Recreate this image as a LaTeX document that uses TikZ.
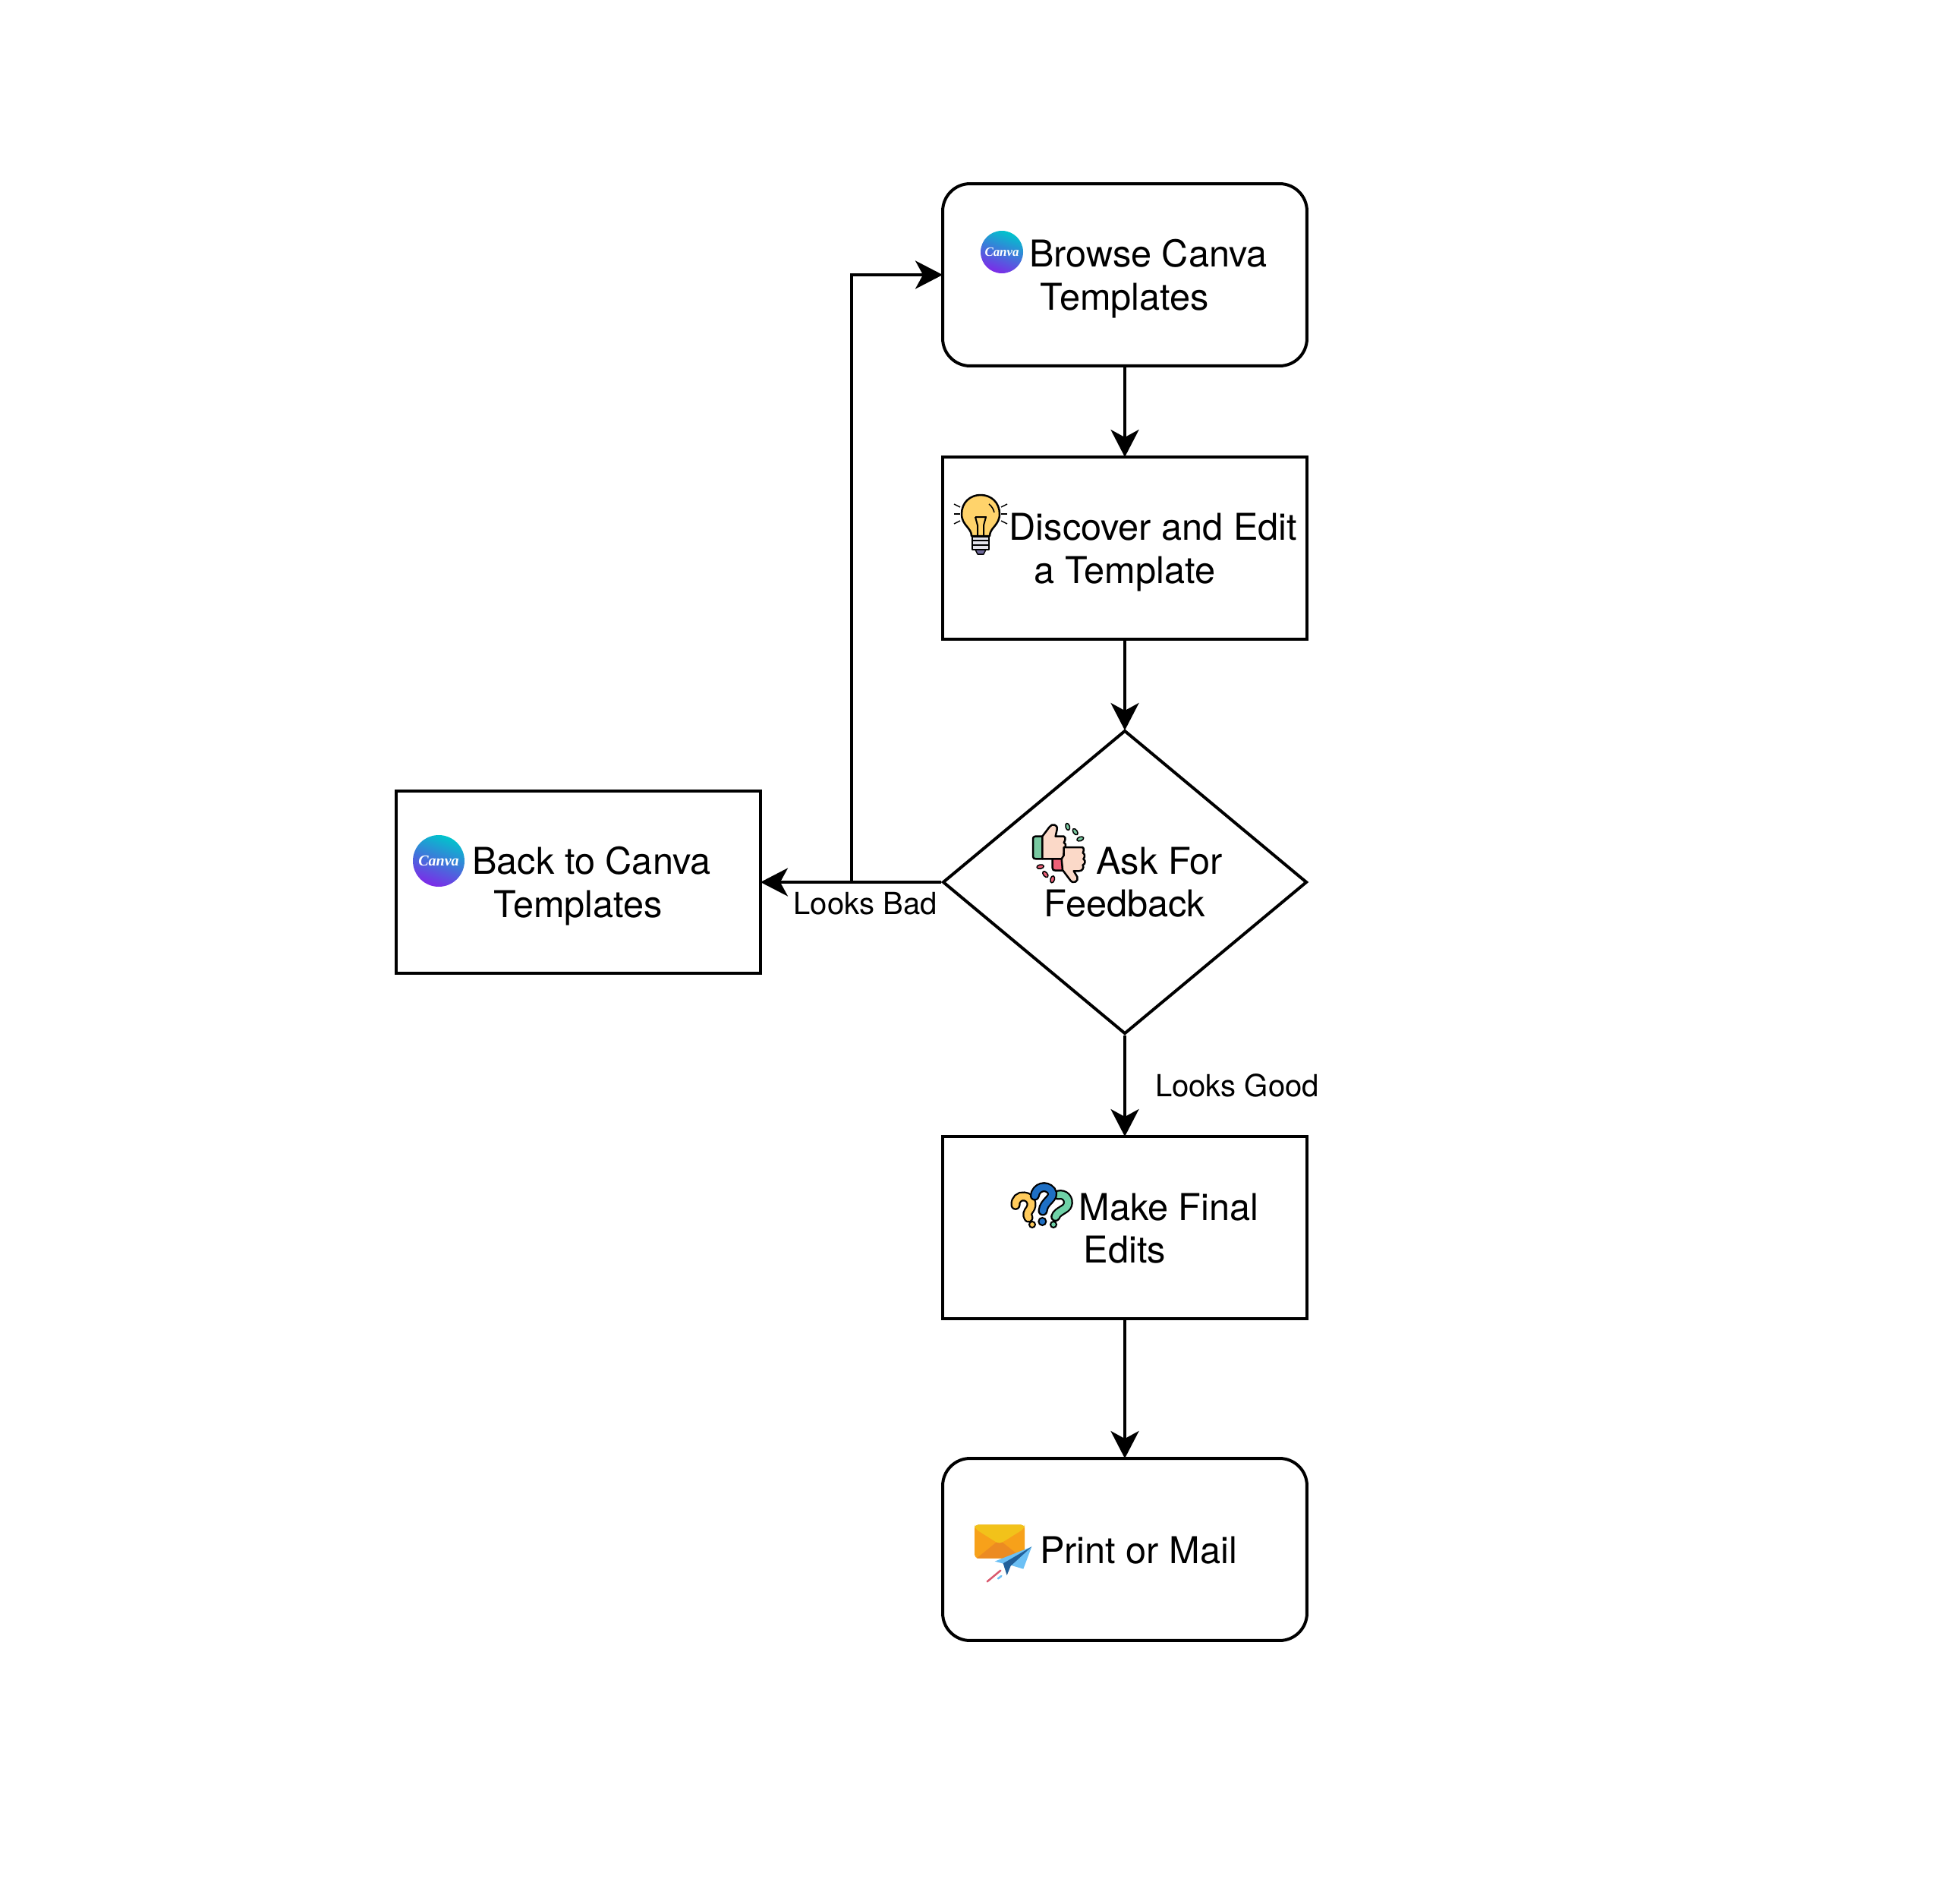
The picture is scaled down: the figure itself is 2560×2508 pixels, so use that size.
\documentclass[tikz,border=0pt]{standalone}
\usepackage{fontspec}
\setmainfont{TeX Gyre Heros}
\newfontfamily\logofont{Liberation Serif}
\usetikzlibrary{arrows.meta,shapes.geometric}

\definecolor{canvateal}{HTML}{00C4CC}
\definecolor{canvapurple}{HTML}{7D2AE8}
\definecolor{bulbyellow}{HTML}{FFD36B}
\definecolor{bulbgrey}{HTML}{E4E4EC}
\definecolor{bulbtip}{HTML}{6F6A9A}
\definecolor{thumbskin}{HTML}{FBD9C8}
\definecolor{thumbgreen}{HTML}{79C9A1}
\definecolor{thumbred}{HTML}{EE6078}
\definecolor{askyellow}{HTML}{FFCB5C}
\definecolor{askblue}{HTML}{1E6FC4}
\definecolor{askgreen}{HTML}{6FD2A8}
\definecolor{mailbody}{HTML}{F7A11A}
\definecolor{mailflap}{HTML}{F2C21A}
\definecolor{maildark}{HTML}{EC8B22}
\definecolor{planelight}{HTML}{6CC0F5}
\definecolor{planedark}{HTML}{22609A}
\definecolor{trailred}{HTML}{D9596E}

% pushes a text block down inside its box
\newcommand{\lowfar}{\rule{0pt}{26.4pt}}
\newcommand{\lownear}{\rule{0pt}{21.8pt}}

\tikzset{
	stepbox/.style={draw, rectangle, minimum width=9.6cm, minimum height=4.8cm, inner sep=0pt,
		align=center, font=\fontsize{27.7}{32}\selectfont},
	roundbox/.style={stepbox, rounded corners=0.72cm},
	askbox/.style={stepbox, diamond, minimum width=9.6cm, minimum height=8cm},
	flow/.style={-{Stealth[length=0.72cm, width=0.74cm, inset=0.2cm]}, shorten >=-0.04cm},
	edgetext/.style={inner sep=0pt, font=\fontsize{22.8}{27}\selectfont},
	logotext/.style={inner sep=0pt, text=white},
	thin line/.style={line width=0.05cm, line join=round},
	qmark/.style={line width=0.045cm, double=#1, double distance=0.17cm, line cap=round}
}

\begin{document}
\begin{tikzpicture}[x=0.02cm, y=-0.02cm, line width=0.08cm]
	\useasboundingbox (0,0) rectangle (2560,2508);

	\node[roundbox] (browse) at (1482,362) {\lowfar\hspace*{1.24cm}Browse Canva\\Templates};
	\node[stepbox] (discover) at (1482,722) {\lowfar\hspace*{1.5cm}Discover and Edit\\a Template};
	\node[askbox] (ask) at (1482,1162) {\hspace*{1.83cm}Ask For\\Feedback};
	\node[stepbox] (back) at (762,1162) {\lowfar\hspace*{0.7cm}Back to Canva\\Templates};
	\node[stepbox] (edits) at (1482,1617) {\lownear\hspace*{2.32cm}Make Final\\Edits};
	\node[roundbox] (print) at (1482,2041) {\lownear\hspace*{0.72cm}Print or Mail};

	\coordinate (turn) at (1122,1162);

	\draw[flow] (browse) -- (discover);
	\draw[flow] (discover) -- (ask);
	\draw[flow] (ask) -- (back);
	\draw[flow] (turn) |- (browse);
	\draw[flow] (ask) -- (edits);
	\draw[flow] (edits) -- (print);

	\node[edgetext] (bad) at (1140,1190) {Looks Bad};
	\node[edgetext] (good) at (1630,1430) {Looks Good};

	% canva logos
	\shade[top color=canvateal, bottom color=canvapurple, shading angle=-20] (1320,332) circle (28);
	\node[logotext, font=\logofont\bfseries\itshape\fontsize{9.6}{10}\selectfont] (logoa) at (1320,332) {Canva};
	\shade[top color=canvateal, bottom color=canvapurple, shading angle=-20] (578,1134) circle (34);
	\node[logotext, font=\logofont\bfseries\itshape\fontsize{11.4}{12}\selectfont] (logob) at (578,1134) {Canva};

	% bulb
	\begin{scope}[thin line]
		\filldraw[fill=bulbyellow] (1280,706) .. controls (1280,695) and (1267,692) .. (1267,677)
			.. controls (1267,662) and (1278,652) .. (1292,652)
			.. controls (1306,652) and (1317,662) .. (1317,677)
			.. controls (1317,692) and (1304,695) .. (1304,706) -- cycle;
		\draw[line width=0.04cm] (1285,681) -- (1299,681) -- (1296,692) -- (1296,706)
			(1285,681) -- (1288,692) -- (1288,706);
		\draw[line width=0.03cm] (1303,664) .. controls (1307,667) and (1309,671) .. (1310,675);
		\filldraw[fill=bulbgrey] (1281,707) rectangle (1303,724);
		\foreach \y in {712, 718}
		{
			\draw[line width=0.03cm] (1281,\y) -- (1303,\y);
		}
		\filldraw[fill=bulbtip, line width=0.03cm] (1285,724) -- (1299,724) -- (1296,730) -- (1288,730) -- cycle;
		\foreach \y/\d in {668/-4, 677/0, 686/4}
		{
			\draw[line width=0.03cm] (1265,\y) -- +(-8,\d);
			\draw[line width=0.03cm] (1319,\y) -- +(8,\d);
		}
	\end{scope}

	% thumbs
	\begin{scope}[shift={(1320,1060)}, scale=0.3333, thin line]
		\filldraw[fill=thumbgreen] (160,125) -- (132,125) .. controls (125,125) and (123,130) .. (123,135)
			-- (123,205) .. controls (123,212) and (128,214) .. (135,214) -- (160,214) -- cycle;
		\filldraw[fill=thumbred] (200,212) -- (200,250) .. controls (200,258) and (205,260) .. (212,260) -- (240,260) -- (240,212) -- cycle;
		\filldraw[fill=thumbskin] (160,125) -- (188,88) .. controls (198,72) and (222,78) .. (218,98)
			-- (212,125) -- (245,125) .. controls (256,130) and (248,145) .. (245,150)
			.. controls (258,155) and (250,170) .. (246,172) .. controls (254,180) and (250,192) .. (244,194)
			.. controls (250,204) and (244,214) .. (236,214) -- (160,214) -- cycle;
		\filldraw[fill=thumbskin] (245,168) -- (318,168) .. controls (328,172) and (322,188) .. (320,190)
			.. controls (332,196) and (326,212) .. (322,214) .. controls (334,222) and (328,236) .. (320,238)
			.. controls (326,250) and (318,262) .. (305,262) -- (284,262) -- (298,285)
			.. controls (305,302) and (282,316) .. (270,298) -- (240,258) -- (236,214) -- (245,200) -- cycle;
		\foreach \x/\y/\a/\c in {260/87/-75/thumbgreen, 290/107/-55/thumbgreen, 310/135/20/thumbgreen,
			152/245/10/thumbred, 172/275/-50/thumbred, 200/295/75/thumbred}
		{
			\filldraw[fill=\c, line width=0.03cm, rotate around={\a:(\x,\y)}] (\x,\y) ellipse (14 and 8);
		}
	\end{scope}

	% question marks
	\begin{scope}[shift={(1310,1530)}, scale=0.3333]
		\draw[qmark=askyellow] (84,172) .. controls (82,150) and (100,135) .. (118,138)
			.. controls (145,140) and (155,170) .. (140,190) .. controls (132,200) and (128,210) .. (135,222);
		\draw[qmark=askgreen] (252,132) .. controls (280,125) and (298,150) .. (290,172)
			.. controls (285,190) and (250,195) .. (242,218);
		\draw[qmark=askblue] (160,135) .. controls (165,100) and (205,90) .. (225,115)
			.. controls (245,145) and (195,155) .. (192,195);
		\foreach \x/\y/\r/\c in {150/249/12/askyellow, 190/237/15/askblue, 234/249/12/askgreen}
		{
			\filldraw[fill=\c, line width=0.04cm] (\x,\y) circle (\r);
		}
	\end{scope}

	% mail
	\begin{scope}[shift={(1260,1980)}, scale=0.3333]
		\fill[mailbody, rounded corners=0.1cm] (72,85) rectangle (270,218);
		\fill[maildark] (80,218) -- (170,145) -- (262,218) -- cycle;
		\fill[mailflap, rounded corners=0.1cm] (72,85) -- (270,85) -- (270,100) -- (170,162) -- (72,100) -- cycle;
		\fill[planelight] (298,172) -- (152,230) -- (190,240) -- cycle;
		\fill[planelight] (298,172) -- (265,260) -- (215,245) -- cycle;
		\fill[planedark] (298,172) -- (185,238) -- (200,285) -- (215,248) -- cycle;
		\draw[trailred, line width=0.05cm, line cap=round] (122,310) -- (175,266);
		\draw[planelight, line width=0.05cm, line cap=round] (165,298) -- (178,288);
	\end{scope}
\end{tikzpicture}
\end{document}
